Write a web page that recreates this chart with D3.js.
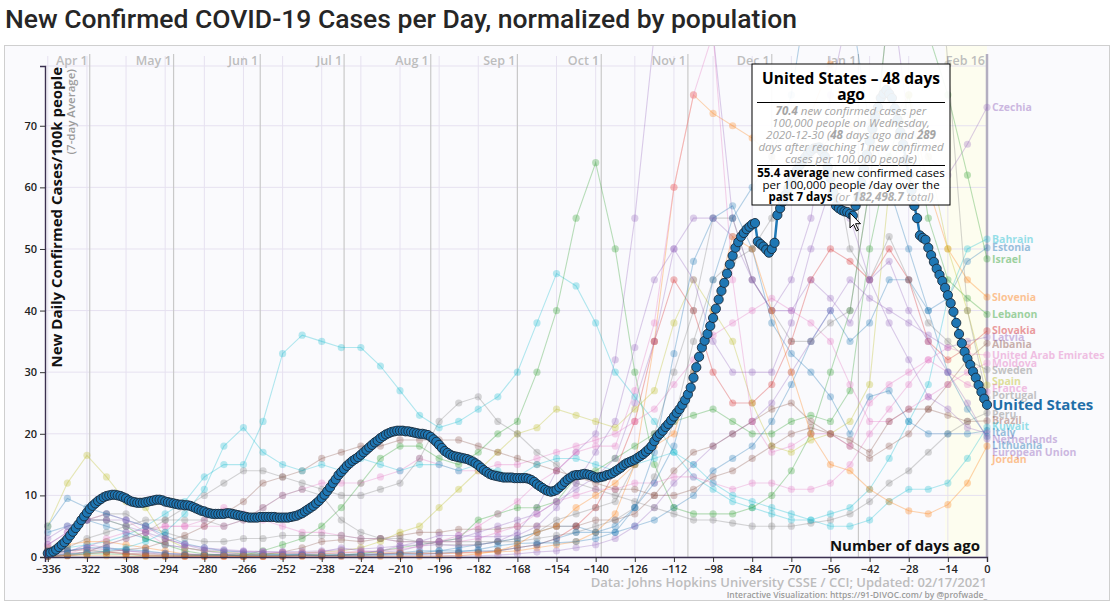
<!DOCTYPE html>
<html>
<head>
<meta charset="utf-8">
<script src="https://cdn.jsdelivr.net/npm/d3@7"></script>
<style>
  body { margin: 0; background: #fff; }
  svg { font-family: "Open Sans", sans-serif; }
</style>
</head>
<body>
<script>
// ---- data ----
const xTicks = [-336,-322,-308,-294,-280,-266,-252,-238,-224,-210,-196,-182,-168,-154,-140,-126,-112,-98,-84,-70,-56,-42,-28,-14,0];
const yTicks = [0,10,20,30,40,50,60,70];
const monthLabels = ["Apr 1","May 1","Jun 1","Jul 1","Aug 1","Sep 1","Oct 1","Nov 1","Dec 1","Jan 1","Feb 16"];
const monthDays = [-321,-291,-260,-230,-199,-168,-138,-107,-77,-46,0];

// United States, one value per day, starting 336 days ago
const usStartDay = -336;
const usValues = [
  0.6,0.7,0.9,1.2,1.6,2.0,2.4,2.9,3.5,4.1,
  4.7,5.3,6.0,6.6,7.2,7.8,8.3,8.7,9.1,9.4,
  9.7,9.9,10.0,10.1,10.1,10.0,9.9,9.7,9.5,9.2,
  9.0,8.9,8.8,8.8,8.8,8.9,9.0,9.1,9.2,9.3,
  9.3,9.2,9.0,8.9,8.8,8.7,8.6,8.5,8.5,8.4,
  8.4,8.3,8.1,7.9,7.7,7.5,7.4,7.2,7.1,7.0,
  7.0,7.0,7.0,7.0,7.1,7.1,7.0,6.9,6.8,6.7,
  6.6,6.5,6.4,6.4,6.4,6.4,6.5,6.5,6.5,6.5,
  6.5,6.5,6.4,6.4,6.4,6.4,6.4,6.5,6.6,6.7,
  6.9,7.1,7.4,7.7,8.0,8.3,8.7,9.1,9.6,10.1,
  10.7,11.3,12.0,12.6,13.3,13.8,14.3,14.8,15.2,15.6,
  15.9,16.2,16.6,17.0,17.4,17.8,18.2,18.6,18.9,19.3,
  19.6,19.9,20.1,20.3,20.4,20.5,20.5,20.5,20.4,20.4,
  20.3,20.2,20.1,20.0,20.0,19.9,19.8,19.5,19.1,18.7,
  18.2,17.7,17.2,16.9,16.6,16.4,16.3,16.2,16.1,16.0,
  15.9,15.7,15.5,15.2,14.9,14.5,14.1,13.8,13.5,13.3,
  13.2,13.1,13.0,12.9,12.9,12.9,12.9,12.8,12.8,12.8,
  12.8,12.8,12.7,12.5,12.2,11.8,11.5,11.2,10.9,10.7,
  10.6,10.7,10.9,11.3,11.7,12.2,12.6,12.9,13.2,13.3,
  13.3,13.4,13.5,13.4,13.3,13.1,12.9,12.9,13.0,13.1,
  13.3,13.4,13.6,13.9,14.2,14.5,14.9,15.2,15.4,15.6,
  15.8,16.1,16.4,16.7,17.1,17.5,18.0,18.8,19.5,20.0,
  20.5,21.1,21.6,22.2,22.8,23.4,24.0,24.7,25.5,26.4,
  27.5,29.1,30.8,32.5,34.0,35.1,36.2,37.5,38.8,40.3,
  41.8,43.2,44.5,46.0,47.5,48.9,50.2,51.1,52.0,52.6,
  53.2,53.6,54.0,54.2,51.2,50.8,50.4,49.9,49.4,50.0,
  51.0,55.5,56.6,57.7,58.8,59.9,61.0,61.9,62.8,63.6,
  64.3,64.9,65.5,65.9,66.3,66.4,66.5,65.8,65.0,63.3,
  61.5,59.2,57.0,56.6,56.3,56.1,56.0,55.7,55.4,57.0,
  58.5,60.8,63.0,65.3,67.5,69.5,71.5,73.0,74.5,75.2,
  75.8,75.2,74.5,72.8,71.0,69.0,67.0,64.5,62.0,59.5,
  57.0,55.0,52.2,51.8,51.5,50.2,49.0,47.9,46.8,45.8,
  44.8,43.7,42.5,41.2,39.8,38.0,36.2,34.7,33.3,32.2,
  31.2,30.1,29.1,27.9,26.8,25.7,24.7
];

// other countries, one value per week (days ago below)
const weekDays = [-336,-329,-322,-315,-308,-301,-294,-287,-280,-273,-266,-259,-252,-245,-238,-231,-224,-217,-210,-203,-196,-189,-182,-175,-168,-161,-154,-147,-140,-133,-126,-119,-112,-105,-98,-91,-84,-77,-70,-63,-56,-49,-42,-35,-28,-21,-14,-7,0];
const countryNames = ["Czechia","Bahrain","Estonia","Israel","Slovenia","Lebanon","Slovakia","Latvia","Albania","United Arab Emirates","Moldova","Sweden","Spain","France","Portugal","Peru","Brazil","Kuwait","Italy","Netherlands","Lithuania","European Union","Jordan"];
const countryColors = ["#9467bd","#17becf","#1f77b4","#2ca02c","#ff7f0e","#2ca02c","#d62728","#9467bd","#8c564b","#e377c2","#e377c2","#7f7f7f","#bcbd22","#e377c2","#7f7f7f","#7f7f7f","#8c564b","#17becf","#1f77b4","#9467bd","#1f77b4","#9467bd","#ff7f0e"];
const czechia = [0.2,0.8,2.0,1.5,1.0,0.7,0.4,0.3,0.3,0.4,0.4,0.5,0.5,0.5,0.8,1.5,1.0,0.8,1.0,1.8,2.0,1.8,2.0,2.5,4,8,14,17,20,32,55,85,110,110,85,55,45,40,45,55,75,90,105,95,70,65,62,67,73];
const bahrain = [1.0,1.5,2.0,2.5,3.5,5,7,9,13,15,15,22,33,36,35,34,34,31,27,23,21,22,24,26,30,38,46,44,38,30,26,22,17,13,11,9,8,7,6,6,7,8,11,16,22,28,42,50,51.6];
const estonia = [4,5,6,5,4,3,2,1.5,1,0.7,0.5,0.3,0.3,0.3,0.2,0.3,0.5,0.5,0.7,1.0,1.0,1.5,2,2.5,3,4,5,5,4,4,5,6,8,10,14,16,18,22,28,35,40,35,38,45,45,40,42,48,50.2];
const israel = [1.0,3,6,6,5,3,2,1,0.5,0.3,0.3,1,2,3,5,8,12,16,18,18,16,15,17,20,22,30,40,55,64,50,30,15,8,7,7,7,8,10,14,20,30,40,60,90,95,85,75,62,48.4];
const slovenia = [1.5,2,2.5,2.5,2,1.5,1,0.5,0.2,0.2,0.1,0.1,0.2,0.3,0.5,0.7,0.8,0.7,0.7,0.6,0.6,0.6,0.7,0.8,1,1.5,2,2.5,4,7,15,35,60,75,72,70,68,65,62,72,80,70,65,70,75,60,50,45,42.2];
const lebanon = [0.1,0.3,0.5,0.5,0.4,0.2,0.2,0.2,0.3,0.3,0.2,0.3,0.3,0.3,0.3,0.3,0.5,1,1.5,2,2.5,3,6,7,8,8,9,13,14,16,18,20,22,23,24,22,20,20,22,23,22,27,50,65,75,55,45,42,39.4];
const slovakia = [0.2,0.5,0.8,0.8,0.5,0.3,0.2,0.1,0.1,0.1,0.1,0.1,0.1,0.2,0.2,0.3,0.3,0.5,0.6,0.6,0.6,0.7,0.8,1.0,1.5,2,3,5,8,14,22,35,45,40,30,25,25,28,35,45,50,48,45,50,45,35,32,34,36.7];
const latvia = [0.5,1,1.5,1.2,1,0.8,0.6,0.5,0.4,0.3,0.2,0.2,0.2,0.2,0.1,0.1,0.1,0.2,0.2,0.3,0.3,0.2,0.2,0.3,0.5,0.8,1,1.5,2,3,5,8,12,15,18,20,22,25,30,35,40,45,42,40,38,36,34,35,35.7];
const albania = [0.5,1,1.2,0.8,0.6,0.5,0.4,0.3,0.3,0.3,0.3,0.4,0.8,1.5,2.5,2.8,2.5,3,3.5,4,4,4.5,4.5,4.5,5,5,5,5,6,6,7,10,14,17,18,20,22,24,25,22,20,18,16,18,20,24,28,32,34.7];
const uae = [0.1,0.3,0.8,2,3,4,5,5,6,8,7,6,5,4,4,3.5,3,3,2.5,2.5,2.5,2.5,3,4,5,7,9,10,11,11,12,12,13,13,12,11,12,12,11,11,12,15,20,24,28,32,34,33,32.8];
const moldova = [0.1,0.5,1.5,3,4,4.5,5,5,5,5,6,8,10,11,12,12,12,13,14,16,15,14,14,15,15,16,17,18,19,20,22,24,28,32,36,38,40,42,40,38,35,28,22,22,24,26,28,30,31.5];
const sweden = [0.8,1.5,3,4,5,6,6,6,6,5,6,8,10,11,10,6,4,3,2.5,2.5,2.5,2.5,2.5,2.5,2.5,3,3.5,4,5,6,8,13,22,35,45,48,50,55,60,65,68,50,45,52,45,38,35,32,30.4];
const spain = [5,12,16.5,13,9,8,3,1.5,1,0.8,0.5,0.5,0.6,0.7,0.8,1.0,1.5,2.5,4,5,8,11,14,17,20,21,24,23,22,21,24,27,38,45,40,35,25,18,17,19,20,22,28,60,75,65,50,40,27.9];
const france = [2,4,6,7,6,4,2,1.5,1.0,0.5,0.8,0.8,0.7,0.7,0.8,0.8,0.9,1.0,1.3,1.7,2.5,3.5,5,7,9,12,14,17,18,18,27,38,60,75,85,45,22,17,18,20,20,18,25,28,30,32,30,28,26.8];
const portugal = [1,3,6,7,7,5,4,3,2.5,2.5,3,3,3.5,3.5,3.5,3.5,3,3,3,2.5,2,2,2,2.5,3,4,6,7,8,9,15,20,30,40,55,55,45,40,35,35,38,40,60,90,110,120,80,40,25.8];
const peru = [0.1,0.3,0.8,2,3,4,6,8,10,12,14,14,13,12,11,10,10,11,12,16,22,25,26,22,20,17,15,12,11,10,9,8,7,6,6,5.5,5,5,5,5.5,6,7,9,12,14,17,20,22,23.4];
const brazil = [0.1,0.2,0.5,0.8,1.2,1.5,2.5,3.5,5,7,9,12,13,14,16,17,18,18,19,19,19,19,18,17,16,15,14,13,12,11,11,10,10,11,13,14,16,18,20,21,20,19,17,22,24,24,23,22,22.1];
const kuwait = [0.2,0.5,0.7,1.0,1.5,2.5,4,7,11,18,21,17,15,14,15,14,16,15,14,15,15,14,15,14,13,15,16,16,15,14,15,16,17,15,12,10,9,8,7,6,5,5,6,9,11,11,12,16,21.1];
const italy = [5,9.5,8,7,6,5,3.5,2.2,1.5,1.0,0.8,0.5,0.4,0.4,0.3,0.3,0.3,0.3,0.4,0.4,0.6,0.8,1.2,1.8,2.2,2.3,2.3,2.5,3.0,4,8,17,33,48,55,57,50,38,33,30,26,20,26,27,22,20,20,20,20.5];
const netherlands = [3,5,6,6,6,5,3,2,1.2,1.0,0.9,0.8,0.7,0.6,0.6,0.6,0.7,1.0,1.8,2.5,3.5,3.5,3.3,3.3,3.5,5,8,12,17,22,34,45,50,45,35,30,30,30,38,50,60,55,45,38,32,26,24,21,20.1];
const lithuania = [0.5,1,1.5,1.5,1.2,1,0.6,0.4,0.3,0.3,0.2,0.2,0.2,0.3,0.3,0.3,0.3,0.4,0.5,0.7,1,1,1,1,1.5,2,3,4,4,5,8,12,18,30,45,55,60,65,75,95,105,90,70,60,50,40,30,24,19.6];
const eu = [2,4,6,6,5,4,3,2,1.5,1.2,1,0.9,0.9,0.9,1,1.2,1.3,1.5,1.8,2,2.5,3,4,5,6,7,9,11,13,16,25,35,50,55,55,52,45,40,40,45,42,38,45,48,40,35,30,25,19.2];
const jordan = [0.1,0.2,0.2,0.2,0.1,0.1,0.1,0.1,0.1,0.1,0.1,0.1,0.1,0.1,0.1,0.1,0.1,0.1,0.1,0.1,0.1,0.2,0.5,1,2,4,5,8,10,12,15,18,20,30,40,52,50,40,30,20,15,14,11,9,7.5,7,8.5,12,18];
const countryValues = [czechia,bahrain,estonia,israel,slovenia,lebanon,slovakia,latvia,albania,uae,moldova,sweden,spain,france,portugal,peru,brazil,kuwait,italy,netherlands,lithuania,eu,jordan];

// ---- chart ----
const W = 1114, H = 602;
const svg = d3.select("body").append("svg").attr("width", W).attr("height", H);

const x = d3.scaleLinear().domain([-337, 0]).range([45, 987]);
const y = d3.scaleLinear().domain([0, 79.7]).range([557, 66]);

// title
svg.append("text")
  .attr("x", 5).attr("y", 28)
  .attr("font-family", "Roboto, sans-serif")
  .attr("font-size", 26.5).attr("font-weight", 500)
  .attr("fill", "#262626")
  .text("New Confirmed COVID-19 Cases per Day, normalized by population");

// frame
svg.append("rect")
  .attr("x", 4.5).attr("y", 45.5).attr("width", 1105).attr("height", 555)
  .attr("fill", "#fafafd").attr("stroke", "#cfcfcf");

// recent-data band
svg.append("rect")
  .attr("x", x(-15)).attr("y", 46).attr("width", x(0) - x(-15)).attr("height", y(0) - 46)
  .attr("fill", "#fdfdef");

// grid
const grid = svg.append("g");
grid.selectAll(".gy").data(yTicks.concat([79.7])).enter().append("line")
  .attr("x1", 45).attr("x2", 987)
  .attr("y1", d => y(d)).attr("y2", d => y(d))
  .attr("stroke", "#e6e1f0");
grid.selectAll(".gx").data(xTicks).enter().append("line")
  .attr("x1", d => x(d)).attr("x2", d => x(d))
  .attr("y1", 56).attr("y2", 557)
  .attr("stroke", "#e6e1f0");

// month lines
grid.selectAll(".mline").data(monthDays).enter().append("line")
  .attr("x1", d => x(d)).attr("x2", d => x(d))
  .attr("y1", 54).attr("y2", 557)
  .attr("stroke", (d, i) => i === monthDays.length - 1 ? "#b3aec0" : "#c9c9c9")
  .attr("stroke-width", (d, i) => i === monthDays.length - 1 ? 2.5 : 1.2);
grid.selectAll(".mlab").data(monthLabels).enter().append("text")
  .attr("x", (d, i) => x(monthDays[i]) - 2)
  .attr("y", 65)
  .attr("text-anchor", "end")
  .attr("font-size", 12.5).attr("font-weight", 600)
  .attr("fill", "#bdbdbd")
  .text(d => d);

// clip
svg.append("clipPath").attr("id", "clip")
  .append("rect").attr("x", 4).attr("y", 46).attr("width", 995).attr("height", 516);
const plot = svg.append("g").attr("clip-path", "url(#clip)");

const line = d3.line().x(d => x(d[0])).y(d => y(d[1]));

// other countries
countryValues.forEach((vals, ci) => {
  const pts = vals.map((v, i) => [weekDays[i], v]);
  const g = plot.append("g");
  g.append("path").datum(pts)
    .attr("d", line)
    .attr("fill", "none")
    .attr("stroke", countryColors[ci])
    .attr("stroke-width", 1.1)
    .attr("opacity", 0.32);
  g.selectAll("circle").data(pts).enter().append("circle")
    .attr("cx", d => x(d[0])).attr("cy", d => y(d[1]))
    .attr("r", 3.6)
    .attr("fill", countryColors[ci])
    .attr("opacity", 0.3);
});

// United States
const usPts = usValues.map((v, i) => [usStartDay + i, v]);
plot.append("path").datum(usPts)
  .attr("d", line)
  .attr("fill", "none")
  .attr("stroke", "#1f77b4")
  .attr("stroke-width", 2.5);
plot.append("g").selectAll("circle").data(usPts).enter().append("circle")
  .attr("cx", d => x(d[0])).attr("cy", d => y(d[1]))
  .attr("r", 4.6)
  .attr("fill", "#1f77b4")
  .attr("stroke", "#1a2a3a")
  .attr("stroke-width", 0.9);

// axes
const yAxis = svg.append("g").attr("transform", "translate(45,0)")
  .call(d3.axisLeft(y).tickValues(yTicks).tickSize(5).tickPadding(3));
const xAxis = svg.append("g").attr("transform", "translate(0,557)")
  .call(d3.axisBottom(x).tickValues(xTicks).tickSize(5).tickPadding(3));
[yAxis, xAxis].forEach(a => {
  a.selectAll("text").attr("font-family", "Open Sans, sans-serif")
    .attr("font-size", 11).attr("font-weight", 600).attr("fill", "#222");
  a.selectAll("line").attr("stroke", "#333");
  a.select(".domain").attr("stroke", "#3b3050").attr("stroke-width", 1.4);
});

// axis titles
svg.append("text")
  .attr("transform", "translate(62,67) rotate(-90)")
  .attr("text-anchor", "end")
  .attr("font-size", 15).attr("font-weight", 700).attr("fill", "#111")
  .text("New Daily Confirmed Cases/100k people");
svg.append("text")
  .attr("transform", "translate(75,69) rotate(-90)")
  .attr("text-anchor", "end")
  .attr("font-size", 11.5).attr("font-weight", 600).attr("fill", "#9c9c9c")
  .text("(7-day Average)");
svg.append("text")
  .attr("x", 980).attr("y", 551)
  .attr("text-anchor", "end")
  .attr("font-size", 15).attr("font-weight", 700).attr("fill", "#111")
  .text("Number of days ago");

// end labels: start at each series' last value, then push apart a little
const usEndY = y(usValues[usValues.length - 1]);
const labels = countryNames.map((name, i) => ({
  name, color: countryColors[i],
  y: y(countryValues[i][countryValues[i].length - 1])
}));
labels.push({ name: "United States", color: "#1f6ea8", y: usEndY, us: true });
labels.sort((a, b) => a.y - b.y);
const minGap = 7;
for (let pass = 0; pass < 30; pass++) {
  for (let i = 1; i < labels.length; i++) {
    const gap = (labels[i].us || labels[i - 1].us) ? 10 : minGap;
    const d = labels[i].y - labels[i - 1].y;
    if (d < gap) {
      const shift = (gap - d) / 2;
      if (!labels[i - 1].us) labels[i - 1].y -= shift; else labels[i].y += shift;
      if (!labels[i].us) labels[i].y += shift; else labels[i - 1].y -= shift;
    }
  }
}
svg.append("g").selectAll("text").data(labels).enter().append("text")
  .attr("x", 992)
  .attr("y", d => d.y)
  .attr("dy", "0.35em")
  .attr("font-size", d => d.us ? 15 : 10.5).attr("font-weight", 700)
  .attr("fill", d => d.color)
  .attr("opacity", d => d.us ? 1 : 0.45)
  .text(d => d.name);

// source
svg.append("text")
  .attr("x", 987).attr("y", 587)
  .attr("text-anchor", "end")
  .attr("font-size", 13).attr("font-weight", 600).attr("fill", "#bdbdbd")
  .text("Data: Johns Hopkins University CSSE / CCI; Updated: 02/17/2021");
svg.append("text")
  .attr("x", 987).attr("y", 598)
  .attr("text-anchor", "end")
  .attr("font-size", 8.5).attr("font-weight", 600).attr("fill", "#9a9a9a")
  .text("Interactive Visualization: https://91-DIVOC.com/ by @profwade_");

// tooltip
const tip = svg.append("g").attr("transform", "translate(752,64)");
tip.append("rect").attr("width", 198).attr("height", 141)
  .attr("fill", "#fff").attr("fill-opacity", 0.92)
  .attr("stroke", "#000").attr("stroke-width", 1);
const tcx = 99;
const tipTitle = ["United States \u2013 48 days", "ago"];
tip.selectAll(".tt").data(tipTitle).enter().append("text")
  .attr("x", tcx).attr("y", (d, i) => 20 + i * 16)
  .attr("text-anchor", "middle")
  .attr("font-size", 15.5).attr("font-weight", 700).attr("fill", "#000")
  .text(d => d);
tip.append("line").attr("x1", 5).attr("x2", 193).attr("y1", 38.5).attr("y2", 38.5).attr("stroke", "#000");
tip.append("line").attr("x1", 5).attr("x2", 193).attr("y1", 101.5).attr("y2", 101.5).attr("stroke", "#000");

const grayLines = [
  [["70.4", 1], [" new confirmed cases per", 0]],
  [["100,000 people on Wednesday,", 0]],
  [["2020-12-30 (", 0], ["48", 1], [" days ago and ", 0], ["289", 1]],
  [["days after reaching 1 new confirmed", 0]],
  [["cases per 100,000 people)", 0]]
];
grayLines.forEach((segs, i) => {
  const t = tip.append("text").attr("x", tcx).attr("y", 51 + i * 12)
    .attr("text-anchor", "middle").attr("font-size", 11.5)
    .attr("font-style", "italic").attr("fill", "#a5a5a5");
  segs.forEach(s => t.append("tspan").attr("font-weight", s[1] ? 700 : 400).text(s[0]));
});
const blackLines = [
  [["55.4 average", 1, 0], [" new confirmed cases", 0, 0]],
  [["per 100,000 people /day over the", 0, 0]],
  [["past 7 days", 1, 0], [" (or ", 0, 1], ["182,498.7", 1, 1], [" total)", 0, 1]]
];
blackLines.forEach((segs, i) => {
  const t = tip.append("text").attr("x", tcx).attr("y", 113 + i * 12)
    .attr("text-anchor", "middle").attr("font-size", 11.5).attr("fill", "#000");
  segs.forEach(s => t.append("tspan")
    .attr("font-weight", s[1] ? 700 : 400)
    .attr("font-style", s[2] ? "italic" : "normal")
    .attr("fill", s[2] ? "#b0b0b0" : "#000")
    .text(s[0]));
});

// mouse pointer
svg.append("path")
  .attr("transform", "translate(850,213)")
  .attr("d", "M0,0 L0,15 L3.5,11.5 L6.5,18 L8.5,17 L5.5,10.7 L10.5,10.7 Z")
  .attr("fill", "#fff").attr("stroke", "#000").attr("stroke-width", 1);
</script>
</body>
</html>
